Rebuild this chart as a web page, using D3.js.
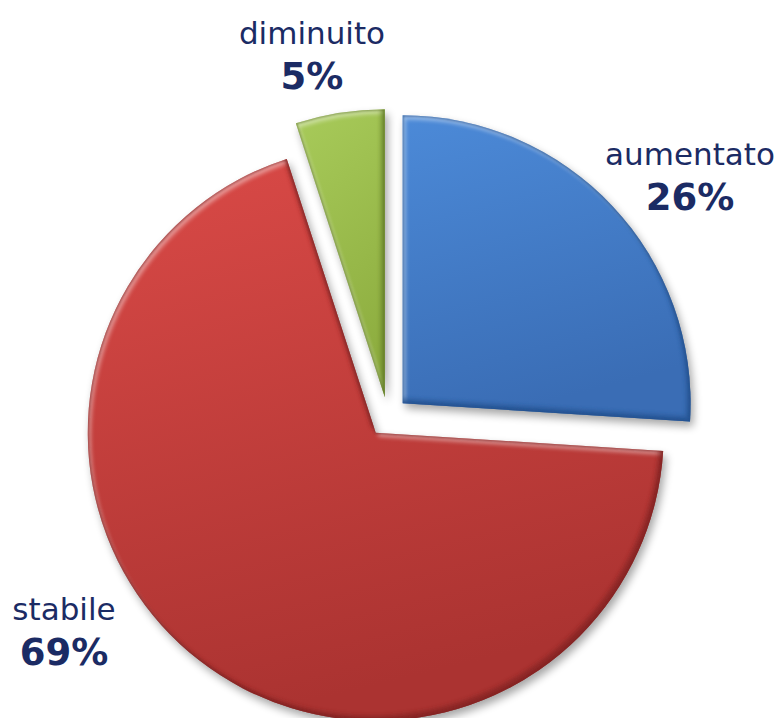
<!DOCTYPE html>
<html>
<head>
<meta charset="utf-8">
<script src="https://cdn.jsdelivr.net/npm/d3@7/dist/d3.min.js"></script>
<style>
  html, body { margin: 0; padding: 0; background: #ffffff; }
  svg { display: block; }
</style>
</head>
<body>
<script>
// ---- data ----
const categories = ["aumentato", "stabile", "diminuito"];
const values = [26, 69, 5];
const percentLabels = ["26%", "69%", "5%"];
const colorsTop = ["#4c8ad8", "#da4a47", "#a8cb5a"];
const colorsBottom = ["#3a6db5", "#ab3331", "#8eae40"];
const colorsEdge = ["#24508c", "#7e2221", "#617a26"];

// ---- layout ----
const W = 782, H = 718;
const cx = 388, cy = 417, R = 288, explode = 20;
// label anchor positions (text centre x, baseline of first line)
const labelLayout = [
  { x: 690, y: 165 },
  { x: 64, y: 620 },
  { x: 312, y: 44 }
];

const svg = d3.select("body").append("svg")
  .attr("width", W).attr("height", H);

const defs = svg.append("defs");
const blur = (id, s) => defs.append("filter").attr("id", id)
  .attr("x", "-20%").attr("y", "-20%").attr("width", "140%").attr("height", "140%")
  .append("feGaussianBlur").attr("stdDeviation", s);
blur("blur4", 4);
blur("blur2", 2.2);
blur("blur1", 1);

const data = categories.map((c, i) => ({ cat: c, value: values[i], i }));
const pie = d3.pie().sort(null).value(d => d.value);
const arcs = pie(data);
const arc = d3.arc().innerRadius(0).outerRadius(R);

arcs.forEach((a, i) => {
  const g = defs.append("linearGradient").attr("id", "grad" + i)
    .attr("x1", 0).attr("y1", 0).attr("x2", 0.25).attr("y2", 1);
  g.append("stop").attr("offset", "0%").attr("stop-color", colorsTop[i]);
  g.append("stop").attr("offset", "100%").attr("stop-color", colorsBottom[i]);
  defs.append("clipPath").attr("id", "clip" + i)
    .append("path").attr("d", arc(a));
});

const root = svg.append("g").attr("transform", `translate(${cx},${cy})`);

const slices = root.selectAll("g.slice").data(arcs).join("g")
  .attr("class", "slice")
  .attr("transform", d => {
    const m = (d.startAngle + d.endAngle) / 2;
    return `translate(${explode * Math.sin(m)},${-explode * Math.cos(m)})`;
  });

// drop shadow
slices.append("path")
  .attr("d", d => arc(d))
  .attr("transform", "translate(3,5)")
  .attr("fill", "#000").attr("opacity", 0.35)
  .attr("filter", "url(#blur4)");

// base fill
slices.append("path")
  .attr("d", d => arc(d))
  .attr("fill", (d, i) => `url(#grad${i})`);

// bevel
const bevel = slices.append("g").attr("clip-path", (d, i) => `url(#clip${i})`);
const big = "M-2000,-2000H2000V2000H-2000Z";
bevel.append("path")
  .attr("d", d => big + arc(d))
  .attr("fill-rule", "evenodd")
  .attr("transform", "translate(3,4)")
  .attr("fill", "#ffffff").attr("opacity", 0.45)
  .attr("filter", "url(#blur2)");
bevel.append("path")
  .attr("d", d => big + arc(d))
  .attr("fill-rule", "evenodd")
  .attr("transform", "translate(-4,-5)")
  .attr("fill", (d, i) => colorsEdge[i]).attr("opacity", 0.7)
  .attr("filter", "url(#blur2)");
bevel.append("path")
  .attr("d", d => arc(d))
  .attr("fill", "none")
  .attr("stroke", (d, i) => colorsEdge[i])
  .attr("stroke-width", 2).attr("opacity", 0.8)
  .attr("filter", "url(#blur1)");

// labels
const labels = svg.append("g").selectAll("g.label").data(arcs).join("g")
  .attr("class", "label")
  .attr("transform", (d, i) => `translate(${labelLayout[i].x},${labelLayout[i].y})`);
labels.append("text")
  .attr("text-anchor", "middle")
  .attr("font-family", "DejaVu Sans, Verdana, sans-serif")
  .attr("font-size", 31)
  .attr("fill", "#1b2b64")
  .text(d => d.data.cat);
labels.append("text")
  .attr("text-anchor", "middle")
  .attr("y", 45)
  .attr("font-family", "DejaVu Sans, Verdana, sans-serif")
  .attr("font-size", 37)
  .attr("font-weight", "bold")
  .attr("fill", "#1b2b64")
  .text((d, i) => percentLabels[i]);
</script>
</body>
</html>
